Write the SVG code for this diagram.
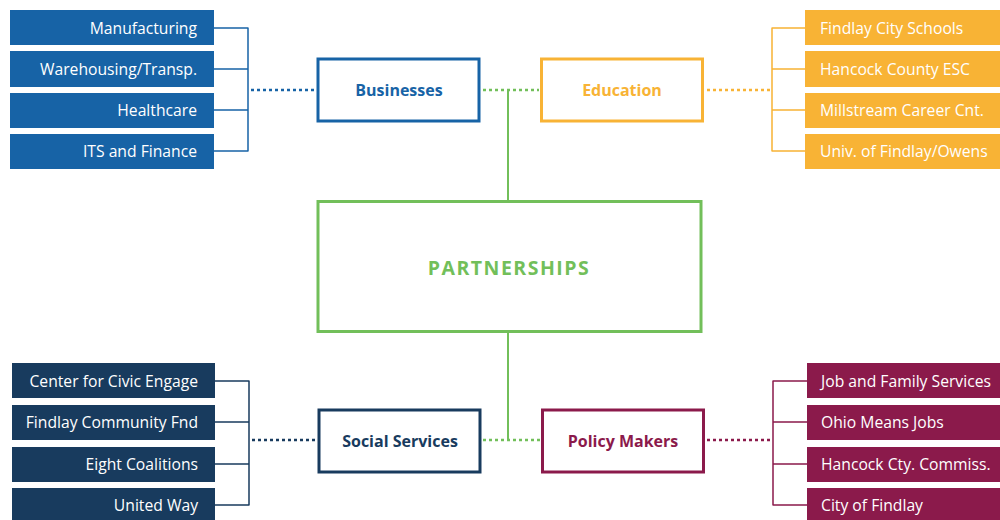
<svg xmlns="http://www.w3.org/2000/svg" width="1000" height="520" viewBox="0 0 1000 520">
<style>
  text { font-family: "Open Sans", "Liberation Sans", sans-serif; }
  .leaf { font-size: 15.7px; fill: #ffffff; dominant-baseline: central; }
  .r { text-anchor: end; }
  .hub { font-size: 16px; font-weight: bold; text-anchor: middle; dominant-baseline: central; }
  .hubbox { fill: #ffffff; stroke-width: 3; }
  .br { fill: none; stroke-width: 1.5; }
  .dot { fill: none; stroke-width: 2.5; stroke-dasharray: 3 3; }
</style>
<rect width="1000" height="520" fill="#ffffff"/>
<g id="connectors">
  <path class="br" stroke="#1763a6" d="M214 28 H248 M214 69 H248 M214 110 H248 M214 151 H248 M248 27.5 V151.5"/>
  <line class="dot" stroke="#1763a6" x1="251" y1="90" x2="316" y2="90"/>
  <path class="br" stroke="#f8b335" d="M805 28 H772 M805 69 H772 M805 110 H772 M805 151 H772 M772 27.5 V151.5"/>
  <line class="dot" stroke="#f8b335" x1="707" y1="90" x2="771" y2="90"/>
  <path class="br" stroke="#183b5e" d="M215 381 H249 M215 422 H249 M215 464 H249 M215 505 H249 M249 380.5 V505.5"/>
  <line class="dot" stroke="#183b5e" x1="252" y1="440" x2="317" y2="440"/>
  <path class="br" stroke="#8b1a4b" d="M807 381 H773 M807 422 H773 M807 464 H773 M807 505 H773 M773 380.5 V505.5"/>
  <line class="dot" stroke="#8b1a4b" x1="707" y1="440" x2="772" y2="440"/>
  <line class="dot" stroke="#72bf5a" x1="483" y1="90" x2="539" y2="90"/>
  <line class="dot" stroke="#72bf5a" x1="483" y1="440" x2="541" y2="440"/>
  <line stroke="#72bf5a" stroke-width="2" x1="508" y1="90" x2="508" y2="201"/>
  <line stroke="#72bf5a" stroke-width="2" x1="508" y1="332" x2="508" y2="440"/>
</g>
<g id="partnerships">
  <rect x="318" y="201.5" width="383" height="130" fill="#ffffff" stroke="#72bf5a" stroke-width="3"/>
  <text x="509" y="267" font-size="19.5" font-weight="bold" fill="#72bf5a" text-anchor="middle" dominant-baseline="central" letter-spacing="1.5">PARTNERSHIPS</text>
</g>
<g id="businesses">
  <rect class="hubbox" stroke="#1763a6" x="318" y="59" width="161" height="62"/>
  <text class="hub" fill="#1763a6" x="399" y="90">Businesses</text>
</g>
<g id="education">
  <rect class="hubbox" stroke="#f8b335" x="541.5" y="59" width="161" height="62"/>
  <text class="hub" fill="#f8b335" x="622" y="90">Education</text>
</g>
<g id="social-services">
  <rect class="hubbox" stroke="#183b5e" x="319" y="410" width="161" height="62"/>
  <text class="hub" fill="#183b5e" x="400" y="441">Social Services</text>
</g>
<g id="policy-makers">
  <rect class="hubbox" stroke="#8b1a4b" x="542.5" y="410" width="161" height="62"/>
  <text class="hub" fill="#8b1a4b" x="623" y="441">Policy Makers</text>
</g>
<g id="manufacturing"><rect x="10" y="10" width="204" height="35" fill="#1763a6"/><text class="leaf r" x="197" y="28">Manufacturing</text></g>
<g id="warehousing"><rect x="10" y="51" width="204" height="36" fill="#1763a6"/><text class="leaf r" x="197" y="69">Warehousing/Transp.</text></g>
<g id="healthcare"><rect x="10" y="93" width="204" height="35" fill="#1763a6"/><text class="leaf r" x="197" y="110">Healthcare</text></g>
<g id="its-finance"><rect x="10" y="134" width="204" height="35" fill="#1763a6"/><text class="leaf r" x="197" y="151">ITS and Finance</text></g>
<g id="findlay-city-schools"><rect x="805" y="10" width="195" height="35" fill="#f8b335"/><text class="leaf" x="820" y="28">Findlay City Schools</text></g>
<g id="hancock-esc"><rect x="805" y="51" width="195" height="36" fill="#f8b335"/><text class="leaf" x="820" y="69">Hancock County ESC</text></g>
<g id="millstream"><rect x="805" y="93" width="195" height="35" fill="#f8b335"/><text class="leaf" x="820" y="110">Millstream Career Cnt.</text></g>
<g id="univ-findlay"><rect x="805" y="134" width="195" height="35" fill="#f8b335"/><text class="leaf" x="820" y="151">Univ. of Findlay/Owens</text></g>
<g id="civic-engage"><rect x="12" y="363" width="203" height="35" fill="#183b5e"/><text class="leaf r" x="198" y="381">Center for Civic Engage</text></g>
<g id="community-fnd"><rect x="12" y="405" width="203" height="35" fill="#183b5e"/><text class="leaf r" x="198" y="422">Findlay Community Fnd</text></g>
<g id="eight-coalitions"><rect x="12" y="447" width="203" height="35" fill="#183b5e"/><text class="leaf r" x="198" y="464">Eight Coalitions</text></g>
<g id="united-way"><rect x="12" y="488" width="203" height="35" fill="#183b5e"/><text class="leaf r" x="198" y="505">United Way</text></g>
<g id="job-family"><rect x="807" y="363" width="193" height="35" fill="#8b1a4b"/><text class="leaf" x="821" y="381">Job and Family Services</text></g>
<g id="ohio-means-jobs"><rect x="807" y="405" width="193" height="35" fill="#8b1a4b"/><text class="leaf" x="821" y="422">Ohio Means Jobs</text></g>
<g id="hancock-commiss"><rect x="807" y="447" width="193" height="35" fill="#8b1a4b"/><text class="leaf" x="821" y="464">Hancock Cty. Commiss.</text></g>
<g id="city-findlay"><rect x="807" y="488" width="193" height="35" fill="#8b1a4b"/><text class="leaf" x="821" y="505">City of Findlay</text></g>
</svg>
